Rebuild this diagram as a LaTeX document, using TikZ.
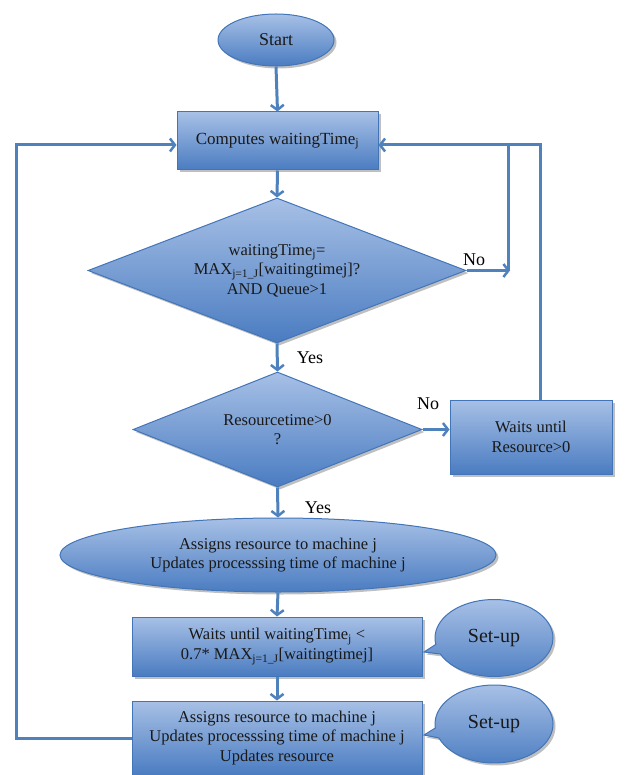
\documentclass[tikz,border=0pt]{standalone}
\usepackage{fontspec}
\setmainfont{Liberation Serif}
\usetikzlibrary{shapes.geometric,shapes.callouts,shadows,arrows.meta}
\definecolor{ltop}{HTML}{A7C0E6}
\definecolor{lbot}{HTML}{4A7CC1}
\definecolor{edgec}{HTML}{4275B8}
\definecolor{connc}{HTML}{4F81BD}
\tikzset{
  boxbase/.style={draw=edgec, line width=1pt, top color=ltop, bottom color=lbot,
    drop shadow={shadow xshift=2.5pt, shadow yshift=-2.5pt, fill=black!50, opacity=0.5},
    inner sep=0pt, align=center, font=\fontsize{16.5}{19.5}\selectfont, text=black!90},
  procbox/.style={boxbase, rectangle},
  decbox/.style={boxbase, diamond},
  ovalbox/.style={boxbase, ellipse},
  setupbox/.style={boxbase, ellipse callout, font=\fontsize{20}{24}\selectfont},
  flow/.style={draw=connc, line width=3pt, -{Straight Barb[length=5pt,width=13pt,line width=2.5pt]}},
  plainline/.style={draw=connc, line width=3pt},
  lbl/.style={font=\fontsize{18}{21}\selectfont, text=black, inner sep=0pt}
}
\begin{document}
\begin{tikzpicture}[x=1pt,y=-1pt]
\useasboundingbox (0,0) rectangle (628,775);
\node[ovalbox, minimum width=116pt, minimum height=52pt, font=\fontsize{18}{21}\selectfont] (start) at (276,40) {Start};
\node[procbox, minimum width=201pt, minimum height=58pt, font=\fontsize{17}{20}\selectfont] (comp) at (277.5,141) {Computes waitingTime\textsubscript{j}};
\node[decbox, minimum width=378pt, minimum height=145pt, aspect=2.6] (d1) at (277,270.5) {waitingTime\textsubscript{j}=\\MAX\textsubscript{j=1\_J}[waitingtimej]?\\AND Queue>1};
\node[decbox, minimum width=289pt, minimum height=115pt, aspect=2.5] (d2) at (277.5,429.5) {Resourcetime>0\\?};
\node[procbox, minimum width=162pt, minimum height=74pt] (waits) at (531,437) {Waits until\\Resource>0};
\node[ovalbox, minimum width=436pt, minimum height=74pt] (ell) at (278,555) {Assigns resource to machine j\\Updates processsing time of machine j};
\node[procbox, minimum width=290pt, minimum height=59pt] (b3) at (277,646.5) {Waits until waitingTime\textsubscript{j} <\\0.7* MAX\textsubscript{j=1\_J}[waitingtimej]};
\node[procbox, minimum width=290pt, minimum height=74pt] (b4) at (277,738) {Assigns resource to machine j\\Updates processsing time of machine j\\Updates resource};
\node[setupbox, minimum width=118pt, minimum height=77pt, callout absolute pointer={(424,652)}] (c1) at (494,638) {Set-up};
\node[setupbox, minimum width=118pt, minimum height=78pt, callout absolute pointer={(424,735)}] (c2) at (494,724) {Set-up};

\coordinate (tr) at (540,145);
\coordinate (j1) at (508,145);
\coordinate (n1) at (510,270.5);
\coordinate (ll) at (16,145);

\draw[flow] (start.south) -- (comp.north);
\draw[flow] (comp.south) -- (d1.north);
\draw[flow] (d1.east) -- (n1);
\draw[plainline] (j1 |- n1) -- (j1);
\draw[flow] (waits.north -| tr) -- (tr) -- (comp.east |- tr);
\draw[flow] (d1.south) -- (d2.north);
\draw[flow] (d2.east) -- (d2.east -| waits.west);
\draw[flow] (d2.south) -- (ell.north);
\draw[flow] (ell.south) -- (b3.north);
\draw[flow] (b3.south) -- (b4.north);
\draw[flow] (b4.west) -- (ll |- b4.west) -- (ll) -- (comp.west |- ll);

\node[lbl] (no1) at (474,260) {No};
\node[lbl] (yes1) at (310,358) {Yes};
\node[lbl] (no2) at (428,404) {No};
\node[lbl] (yes2) at (318,508) {Yes};
\end{tikzpicture}
\end{document}
